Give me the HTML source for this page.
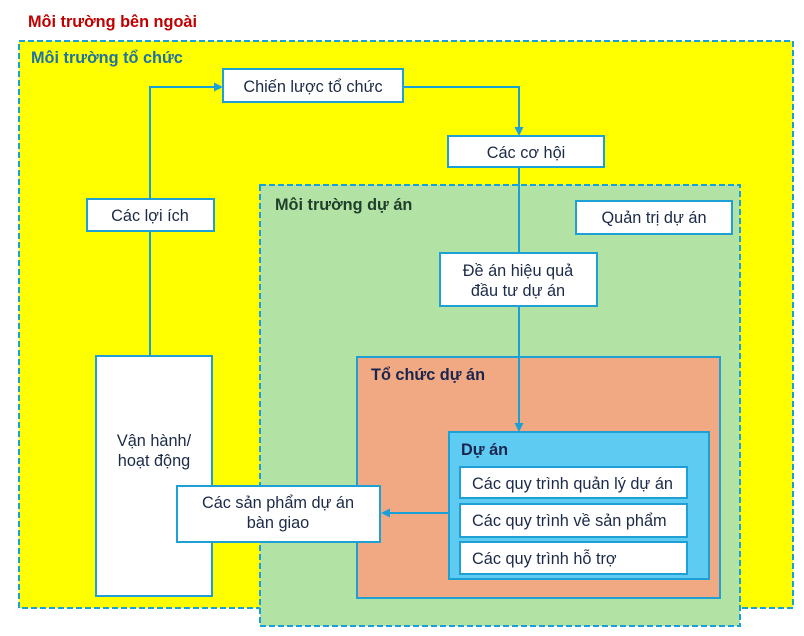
<!DOCTYPE html>
<html><head><meta charset="utf-8">
<style>
html,body{margin:0;padding:0;background:#fff;}
svg{display:block;}
text{font-family:"Liberation Sans",Arial,sans-serif;}
.t{font-size:16.3px;fill:#1b2a48;}
.b{font-size:16.3px;font-weight:bold;}
</style></head>
<body>
<svg width="804" height="636" viewBox="0 0 804 636" xmlns="http://www.w3.org/2000/svg">
<rect width="804" height="636" fill="#fff"/>
<text x="28" y="27" class="b" fill="#c00000">Môi trường bên ngoài</text>

<!-- yellow org environment -->
<rect x="19" y="41" width="774" height="567" fill="#ffff00" stroke="#1aa0d8" stroke-width="2" stroke-dasharray="6,3"/>
<text x="31" y="63" class="b" fill="#1f72a2">Môi trường tổ chức</text>

<!-- green project environment -->
<rect x="260" y="185" width="480" height="441" fill="#b3e3a4" stroke="#1aa0d8" stroke-width="2" stroke-dasharray="6,3"/>
<text x="275" y="210" class="b" fill="#1f3f2c">Môi trường dự án</text>

<!-- boxes -->
<g stroke="#1ea0d4" stroke-width="2" fill="#fff">
  <rect x="223" y="69" width="180" height="33"/>
  <rect x="448" y="136" width="156" height="31"/>
  <rect x="576" y="201" width="156" height="33"/>
  <rect x="87" y="199" width="127" height="32"/>
  <rect x="440" y="253" width="157" height="53"/>
  <rect x="96" y="356" width="116" height="240"/>
</g>
<text x="313" y="92" class="t" text-anchor="middle">Chiến lược tổ chức</text>
<text x="526" y="158" class="t" text-anchor="middle">Các cơ hội</text>
<text x="654" y="223" class="t" text-anchor="middle">Quản trị dự án</text>
<text x="150" y="221" class="t" text-anchor="middle">Các lợi ích</text>
<text x="518" y="276" class="t" text-anchor="middle">Đề án hiệu quả</text>
<text x="518" y="296" class="t" text-anchor="middle">đầu tư dự án</text>
<text x="154" y="446" class="t" text-anchor="middle">Vận hành/</text>
<text x="154" y="466" class="t" text-anchor="middle">hoạt động</text>

<!-- project organization -->
<rect x="357" y="357" width="363" height="241" fill="#f0a982" stroke="#1ea0d4" stroke-width="2"/>
<text x="371" y="380" class="b" fill="#1b2550">Tổ chức dự án</text>

<rect x="449" y="432" width="260" height="147" fill="#5ecbf2" stroke="#1ea0d4" stroke-width="2"/>
<text x="461" y="455" class="b" fill="#1b2550">Dự án</text>

<g stroke="#1ea0d4" stroke-width="2" fill="#fff">
  <rect x="460" y="467" width="227" height="31"/>
  <rect x="460" y="504" width="227" height="33"/>
  <rect x="460" y="542" width="227" height="32"/>
</g>
<text x="472" y="489" class="t">Các quy trình quản lý dự án</text>
<text x="472" y="526" class="t">Các quy trình về sản phẩm</text>
<text x="472" y="564" class="t">Các quy trình hỗ trợ</text>

<!-- deliverables -->
<rect x="177" y="486" width="203" height="56" fill="#fff" stroke="#1ea0d4" stroke-width="2"/>
<text x="278" y="508" class="t" text-anchor="middle">Các sản phẩm dự án</text>
<text x="278" y="528" class="t" text-anchor="middle">bàn giao</text>

<!-- connectors (drawn on top) -->
<g stroke="#1aa0d8" stroke-width="2" fill="none">
  <polyline points="150,198 150,87 216,87"/>
  <polyline points="404,87 519,87 519,128"/>
  <line x1="519" y1="168" x2="519" y2="252"/>
  <line x1="519" y1="307" x2="519" y2="424"/>
  <line x1="150" y1="232" x2="150" y2="355"/>
  <line x1="448" y1="513" x2="388" y2="513"/>
</g>
<g fill="#1aa0d8">
  <polygon points="223,87 214,82.5 214,91.5"/>
  <polygon points="519,136 514.5,127 523.5,127"/>
  <polygon points="519,432 514.5,423 523.5,423"/>
  <polygon points="381,513 390,508.5 390,517.5"/>
</g>
</svg>
</body></html>
